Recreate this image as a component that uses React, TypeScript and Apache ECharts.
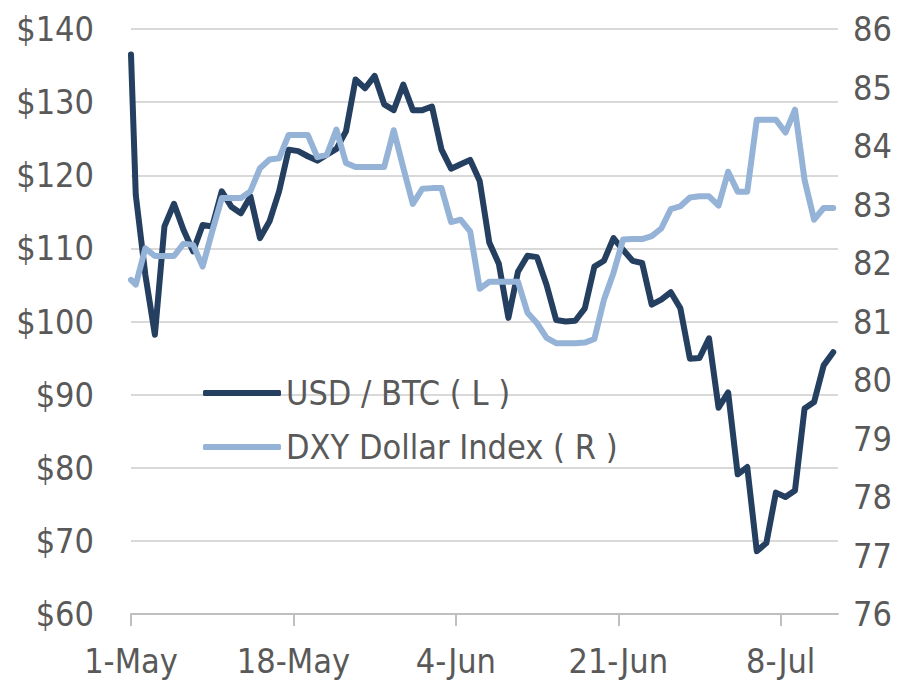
import React, { useEffect, useRef } from "react";
import * as echarts from "echarts";

// Daily points from 1-May-2013 to 13-Jul-2013; the first entry is the value where the line enters at the axis start
const startDate = "2013-04-30";
const xTickLabels = ["1-May", "18-May", "4-Jun", "21-Jun", "8-Jul"];
const xTickValues = [0, 17, 34, 51, 68];
const leftTicks = [60, 140, 10];
const rightTicks = [76, 86, 1];

const btcUsd = [
  136.5, 117.3, 106.4, 98.2, 113.0, 116.1, 112.5, 109.6, 113.2, 113.0,
  117.8, 115.7, 114.8, 117.1, 111.4, 113.7, 117.8, 123.5, 123.3, 122.6,
  122.0, 122.8, 123.6, 126.0, 133.1, 131.9, 133.6, 129.7, 128.9, 132.4,
  128.9, 128.9, 129.4, 123.5, 120.9, 121.5, 122.1, 119.2, 110.8, 107.9,
  100.5, 106.8, 109.0, 108.8, 105.0, 100.2, 100.0, 100.1, 101.8, 107.5,
  108.3, 111.4, 109.8, 108.3, 108.0, 102.3, 103.0, 104.0, 101.8, 94.9,
  95.0, 97.7, 88.2, 90.3, 79.1, 80.1, 68.6, 69.7, 76.6, 76.0,
  76.9, 88.1, 89.0, 94.0, 95.8,
];

const dxy = [
  81.71, 81.63, 82.25, 82.12, 82.12, 82.12, 82.33, 82.31, 81.94, 82.54,
  83.11, 83.11, 83.11, 83.23, 83.62, 83.77, 83.79, 84.19, 84.19, 84.19,
  83.81, 83.85, 84.28, 83.71, 83.64, 83.64, 83.64, 83.64, 84.27, 83.63,
  83.01, 83.27, 83.28, 83.28, 82.7, 82.74, 82.54, 81.56, 81.68, 81.68,
  81.68, 81.68, 81.15, 80.97, 80.72, 80.63, 80.63, 80.63, 80.64, 80.7,
  81.37, 81.83, 82.4, 82.41, 82.41, 82.46, 82.59, 82.92, 82.97, 83.12,
  83.14, 83.14, 82.98, 83.56, 83.22, 83.22, 84.45, 84.45, 84.45, 84.23,
  84.62, 83.42, 82.74, 82.94, 82.94,
];

const seriesNames = ["USD / BTC ( L )", "DXY Dollar Index ( R )"];
const colors = ["#243F60", "#95B3D7"];

const dates: string[] = btcUsd.map((_, i) => {
  const d = new Date(startDate + "T00:00:00Z");
  d.setUTCDate(d.getUTCDate() + i);
  return d.toISOString().slice(0, 10);
});

// day-slot position relative to 1-May: daily points sit mid-slot, the opening value at the axis start
const pos = (i: number) => (i === 0 ? 0 : i - 0.5);

const FONT = "'Liberation Sans Narrow', 'DejaVu Sans Condensed', 'Liberation Sans', sans-serif";
const TXT = "#595959";
const FS = 34;

export default function App() {
  const ref = useRef<HTMLDivElement>(null);
  useEffect(() => {
    if (!ref.current) return;
    const chart = echarts.init(ref.current, undefined, { renderer: "svg" });
    chart.setOption({
      animation: false,
      textStyle: { fontFamily: FONT },
      grid: { left: 131, right: 84, top: 29, bottom: 68, containLabel: false },
      legend: {
        orient: "vertical",
        left: 198,
        top: 371,
        itemWidth: 78,
        itemHeight: 6,
        itemGap: 20,
        icon: "roundRect",
        data: seriesNames,
        textStyle: { fontSize: FS, color: TXT, fontFamily: FONT },
      },
      xAxis: {
        type: "value",
        min: 0,
        max: 74,
        interval: 17,
        splitLine: { show: false },
        axisLine: { show: true, lineStyle: { color: "#BFBFBF", width: 2 } },
        axisTick: {
          show: true,
          length: 12,
          customValues: xTickValues,
          lineStyle: { color: "#BFBFBF", width: 2 },
        },
        axisLabel: {
          customValues: xTickValues,
          margin: 30,
          fontSize: FS,
          color: TXT,
          fontFamily: FONT,
          formatter: (v: number) => xTickLabels[xTickValues.indexOf(v)] ?? "",
        },
      },
      yAxis: [
        {
          type: "value",
          min: leftTicks[0],
          max: leftTicks[1],
          interval: leftTicks[2],
          axisLine: { show: false },
          axisTick: { show: false },
          splitLine: { show: true, lineStyle: { color: "#D9D9D9", width: 2 } },
          axisLabel: {
            margin: 37,
            fontSize: FS,
            color: TXT,
            fontFamily: FONT,
            formatter: (v: number) => "$" + v,
          },
        },
        {
          type: "value",
          min: rightTicks[0],
          max: rightTicks[1],
          interval: rightTicks[2],
          position: "right",
          axisLine: { show: false },
          axisTick: { show: false },
          splitLine: { show: false },
          axisLabel: { margin: 15, fontSize: FS, color: TXT, fontFamily: FONT },
        },
      ],
      series: [
        {
          name: seriesNames[0],
          type: "line",
          yAxisIndex: 0,
          data: btcUsd.map((v, i) => [pos(i), v, dates[i]]),
          symbol: "none",
          itemStyle: { color: colors[0] },
          lineStyle: { color: colors[0], width: 6, cap: "round", join: "round" },
          z: 2,
        },
        {
          name: seriesNames[1],
          type: "line",
          yAxisIndex: 1,
          data: dxy.map((v, i) => [pos(i), v, dates[i]]),
          symbol: "none",
          itemStyle: { color: colors[1] },
          lineStyle: { color: colors[1], width: 6, cap: "round", join: "round" },
          z: 3,
        },
      ],
    });
    return () => chart.dispose();
  }, []);
  return (
    <div
      ref={ref}
      style={{ position: "absolute", left: 0, top: 0, width: 922, height: 682, background: "#fff" }}
    />
  );
}
